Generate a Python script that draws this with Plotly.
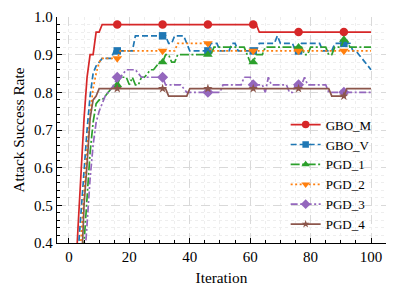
import plotly.graph_objects as go

iterations = list(range(1, 101))

gbo_m = ([0.05, 0.28, 0.44, 0.59, 0.73, 0.84, 0.90, 0.90, 0.96, 0.96]
         + [0.98] * 52 + [0.96] * 38)

gbo_v = ([0.00, 0.18, 0.37, 0.48, 0.60, 0.70, 0.79, 0.85, 0.87, 0.88,
          0.89, 0.89, 0.89, 0.89, 0.91, 0.91, 0.91, 0.91, 0.91, 0.91,
          0.91, 0.95, 0.95, 0.95, 0.95, 0.95, 0.95, 0.95, 0.95, 0.95,
          0.95, 0.95, 0.93, 0.93, 0.95, 0.95, 0.95, 0.95, 0.93, 0.91,
          0.91, 0.91, 0.91, 0.91, 0.91, 0.91, 0.93, 0.93, 0.93, 0.91,
          0.91, 0.91, 0.91, 0.93, 0.93, 0.91, 0.91, 0.91, 0.91, 0.91,
          0.91, 0.91, 0.93, 0.93, 0.93, 0.93, 0.93, 0.93, 0.95, 0.93,
          0.93, 0.93, 0.93, 0.93, 0.91, 0.91, 0.93, 0.93, 0.93, 0.93,
          0.93, 0.93, 0.93, 0.91, 0.91, 0.91, 0.91, 0.93, 0.93, 0.93,
          0.93, 0.93, 0.93, 0.91, 0.91, 0.90, 0.89, 0.88, 0.87, 0.86])

pgd_1 = ([0.00, 0.05, 0.15, 0.28, 0.40, 0.52, 0.64, 0.72, 0.77, 0.78,
          0.78, 0.79, 0.80, 0.81, 0.82, 0.82, 0.84, 0.84, 0.84, 0.82,
          0.84, 0.82, 0.82, 0.84, 0.84, 0.85, 0.86, 0.86, 0.87, 0.88,
          0.88, 0.90, 0.90, 0.88, 0.88, 0.90, 0.90, 0.90, 0.90, 0.90,
          0.90, 0.90, 0.90, 0.90, 0.90, 0.90, 0.90, 0.92, 0.92, 0.92,
          0.92, 0.92, 0.92, 0.92, 0.92, 0.92, 0.92, 0.92, 0.90, 0.88,
          0.88, 0.90, 0.90, 0.90, 0.92, 0.92, 0.92, 0.92, 0.92, 0.92,
          0.92, 0.92, 0.92, 0.92, 0.92, 0.92, 0.92, 0.90, 0.90, 0.92,
          0.92, 0.92, 0.92, 0.92, 0.92, 0.90, 0.90, 0.92, 0.92, 0.92,
          0.94, 0.94, 0.92, 0.92, 0.92, 0.92, 0.92, 0.92, 0.92, 0.92])

pgd_2 = ([0.00, 0.12, 0.28, 0.41, 0.53, 0.65, 0.74, 0.81, 0.85, 0.88]
         + [0.89] * 6 + [0.91] * 19 + [0.93] * 11 + [0.91] * 54)

pgd_3 = ([0.00, 0.05, 0.12, 0.22, 0.35, 0.45, 0.57, 0.66, 0.72, 0.75,
          0.77, 0.79, 0.80, 0.81, 0.82, 0.84, 0.84, 0.85, 0.86, 0.86,
          0.86, 0.86, 0.85, 0.84, 0.84, 0.84, 0.84, 0.84, 0.84, 0.84,
          0.84, 0.82, 0.82, 0.82, 0.82, 0.82, 0.82, 0.81, 0.80, 0.80,
          0.80, 0.80, 0.80, 0.80, 0.80, 0.80, 0.80, 0.80, 0.80, 0.80,
          0.82, 0.82, 0.82, 0.82, 0.82, 0.82, 0.82, 0.84, 0.84, 0.84,
          0.82, 0.82, 0.82, 0.82, 0.80, 0.84, 0.82, 0.82, 0.82, 0.82,
          0.82, 0.82, 0.80, 0.80, 0.82, 0.82, 0.82, 0.84, 0.82, 0.82,
          0.82, 0.82, 0.82, 0.82, 0.82, 0.80, 0.80, 0.80, 0.80, 0.80,
          0.80, 0.80, 0.80, 0.80, 0.80, 0.80, 0.80, 0.80, 0.80, 0.80])

pgd_4 = ([0.00, 0.05, 0.15, 0.30, 0.50, 0.61, 0.73, 0.78, 0.79, 0.81]
         + [0.81] * 22 + [0.79] * 7 + [0.81] * 47 + [0.79] * 5 + [0.81] * 9)

series_names = ["GBO_M", "GBO_V", "PGD_1", "PGD_2", "PGD_3", "PGD_4"]
series_values = [gbo_m, gbo_v, pgd_1, pgd_2, pgd_3, pgd_4]

x_ticks = [0, 20, 40, 60, 80, 100]
y_ticks = [0.4, 0.5, 0.6, 0.7, 0.8, 0.9, 1.0]

colors = ["#d62728", "#1f77b4", "#2ca02c", "#ff7f0e", "#9467bd", "#8c564b"]
dashes = ["solid", "6px,3px", "9px,2.5px,2px,2.5px", "2px,2.5px",
          "7px,2.5px,2px,2.5px", "solid"]
symbols = ["circle", "square", "triangle-up", "triangle-down", "diamond", "star"]
msizes = [8.5, 7.5, 8.5, 8.5, 8.5, 7]

mark_idx = [15, 30, 45, 60, 75, 90]

FONT = "Liberation Serif, Times New Roman, serif"

fig = go.Figure()
for name, vals, c, d, s, ms in zip(series_names, series_values, colors, dashes, symbols, msizes):
    fig.add_trace(go.Scatter(x=iterations, y=vals, mode="lines",
                             line=dict(color=c, width=1.7, dash=d),
                             showlegend=False, hoverinfo="skip"))
    fig.add_trace(go.Scatter(x=[iterations[i] for i in mark_idx],
                             y=[vals[i] for i in mark_idx], mode="markers",
                             marker=dict(symbol=s, size=ms, color=c, line=dict(width=0)),
                             showlegend=False))
    fig.add_trace(go.Scatter(x=[None], y=[None], mode="lines+markers", name=name,
                             line=dict(color=c, width=1.7, dash=d),
                             marker=dict(symbol=s, size=ms - 1, color=c, line=dict(width=0))))

axis_common = dict(
    showline=True, linecolor="black", linewidth=1.3,
    ticks="inside", ticklen=5, tickwidth=1, tickcolor="black",
    showgrid=True, gridcolor="#d9d9d9", gridwidth=0.8, griddash="dash",
    zeroline=False, mirror=False, automargin=False,
    tickfont=dict(family=FONT, size=15, color="black"),
)

# the page body has an 8px default margin, so the figure is 8px smaller
fig.update_layout(
    template="none",
    width=389, height=287,
    margin=dict(l=49, r=11, t=9, b=52, autoexpand=False),
    paper_bgcolor="white", plot_bgcolor="white",
    font=dict(family=FONT, size=15, color="black"),
    xaxis=dict(range=[-3.95, 104.95], tickvals=x_ticks,
               title=dict(text="Iteration", font=dict(family=FONT, size=15.3), standoff=8),
               minor=dict(dtick=5, tick0=0, ticks="inside", ticklen=2.5, tickcolor="black",
                          showgrid=True, gridcolor="#eeeeee", griddash="dot", gridwidth=0.8),
               **axis_common),
    yaxis=dict(range=[0.4, 1.0], tickvals=y_ticks, tickformat=".1f",
               title=dict(text="Attack Success Rate", font=dict(family=FONT, size=15.3), standoff=5),
               minor=dict(dtick=0.02, tick0=0.4, ticks="inside", ticklen=2.5, tickcolor="black",
                          showgrid=True, gridcolor="#eeeeee", griddash="dot", gridwidth=0.8),
               **axis_common),
    legend=dict(x=0.695, y=0.59, xanchor="left", yanchor="top",
                bgcolor="rgba(0,0,0,0)", borderwidth=0,
                font=dict(family=FONT, size=13, color="black"),
                tracegroupgap=0, itemwidth=30),
)

fig.write_html("out.html")
